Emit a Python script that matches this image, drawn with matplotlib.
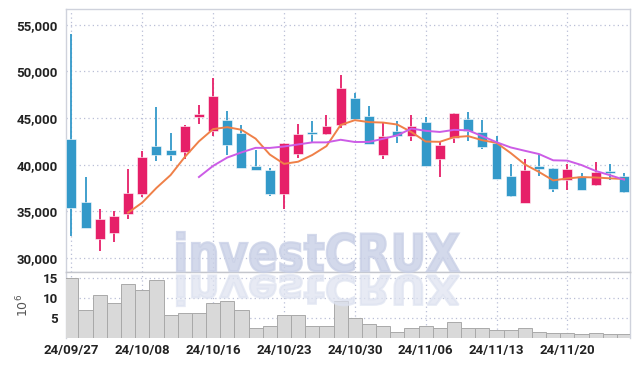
import numpy as np
import pandas as pd
import matplotlib
matplotlib.use("Agg")
import matplotlib.pyplot as plt
from matplotlib.textpath import TextPath
from matplotlib.font_manager import FontProperties
from matplotlib.patches import PathPatch
from matplotlib.transforms import Affine2D

plt.rcParams['font.family'] = ['Roboto', 'DejaVu Sans']

dates = ["24/09/27", "24/09/30", "24/10/02", "24/10/04", "24/10/07", "24/10/08",
         "24/10/10", "24/10/11", "24/10/14", "24/10/15", "24/10/16", "24/10/17",
         "24/10/18", "24/10/21", "24/10/22", "24/10/23", "24/10/24", "24/10/25",
         "24/10/28", "24/10/29", "24/10/30", "24/10/31", "24/11/01", "24/11/04",
         "24/11/05", "24/11/06", "24/11/07", "24/11/08", "24/11/11", "24/11/12",
         "24/11/13", "24/11/14", "24/11/15", "24/11/18", "24/11/19", "24/11/20",
         "24/11/21", "24/11/22", "24/11/25", "24/11/26"]

opens = [42750, 36000, 32100, 32650, 34700, 36900, 42000, 41600, 41400, 45100,
         43650, 44800, 43400, 39850, 39450, 36900, 41200, 43450, 43350, 44300,
         47150, 45200, 41100, 43650, 43100, 44600, 40650, 42850, 44850, 43500,
         42350, 38800, 35950, 39900, 39650, 38350, 38800, 37850, 39350, 38800]
highs = [54000, 38700, 35250, 35000, 39600, 41500, 46200, 43400, 44300, 46350,
         49300, 45800, 44250, 41600, 39700, 42350, 44350, 44650, 45300, 49600,
         47650, 46250, 44450, 44650, 45300, 45150, 42600, 45550, 45600, 44750,
         43100, 40050, 40650, 41200, 39650, 40050, 39100, 40350, 40050, 39100]
lows = [32350, 33250, 30750, 31700, 34150, 36600, 40400, 40400, 40650, 44350,
        43050, 41050, 39700, 39400, 36700, 35250, 40700, 42450, 43150, 43950,
        44950, 42250, 40600, 42350, 42600, 39900, 38650, 42350, 42500, 41650,
        38500, 36600, 35950, 38800, 37100, 37300, 37350, 37750, 38350, 37000]
closes = [35400, 33250, 34200, 34500, 37000, 40800, 41100, 41100, 44150, 45400,
          47350, 42150, 39700, 39400, 36900, 42350, 43300, 43300, 44150, 48200,
          44950, 42250, 43050, 43100, 44150, 39900, 42100, 45550, 43650, 41950,
          38500, 36650, 39450, 39600, 37450, 39550, 37350, 39250, 39150, 37100]
volumes = [15.0, 6.9, 10.8, 8.6, 13.5, 12.0, 14.3, 5.6, 6.2, 6.2,
           8.7, 9.2, 6.9, 2.4, 2.9, 5.6, 5.6, 3.1, 3.1, 9.3,
           4.9, 3.4, 2.9, 1.5, 2.6, 2.9, 2.4, 4.1, 2.4, 2.4,
           1.9, 1.9, 2.6, 1.5, 1.2, 1.2, 0.9, 1.2, 0.9, 0.9]

up_col = "#e61f68"
down_col = "#3399c9"
grid_col = "#b9bfd6"
spine_col = "#cfd2dc"
text_col = "#222222"

df = pd.DataFrame({"open": opens, "high": highs, "low": lows,
                   "close": closes, "vol": volumes})
ma5 = df["close"].rolling(5).mean()
ma10 = df["close"].rolling(10).mean()
x = np.arange(len(df))

fig = plt.figure(figsize=(6.39, 3.66), dpi=100)
ax = fig.add_axes([0.1033, 0.2568, 0.8826, 0.7186])
axv = fig.add_axes([0.1033, 0.0765, 0.8826, 0.1803], sharex=ax)

# candles
up = df["close"] >= df["open"]
colors = np.where(up, up_col, down_col)
bottom = np.minimum(df["open"], df["close"])
height = np.maximum(np.abs(df["close"] - df["open"]), 180)
ax.vlines(x, df["low"], df["high"], colors=colors, linewidth=1.3, zorder=3)
ax.bar(x, height, bottom=bottom, width=0.7, color=colors,
       edgecolor="white", linewidth=0.4, zorder=4)
ax.plot(x, ma5, color="#ef8048", lw=1.4, zorder=5)
ax.plot(x, ma10, color="#cc5ce6", lw=1.4, zorder=5)

ax.set_xlim(-0.38, 39.42)
ax.set_ylim(28520, 56680)
ax.set_yticks(np.arange(30000, 55001, 5000))
ax.yaxis.set_major_formatter(matplotlib.ticker.FuncFormatter(lambda v, p: f"{v:,.0f}"))

# volume
axv.bar(x, df["vol"], width=1.0, color="#d9d9d9", edgecolor="#a9a9a9",
        linewidth=0.7, zorder=3)
axv.set_ylim(0, 16.4)
axv.set_yticks([5, 10, 15])
axv.set_ylabel(r"$10^6$", color="#555555", fontsize=9, labelpad=8)

ticks = x[::5]
axv.set_xticks(ticks)
axv.set_xticklabels([dates[i] for i in ticks])

for a in (ax, axv):
    a.grid(True, color=grid_col, linestyle=(0, (1, 2.5)), linewidth=0.9)
    a.set_axisbelow(True)
    a.tick_params(length=0, labelsize=9.5, colors=text_col, pad=6)
    for lab in a.get_xticklabels() + a.get_yticklabels():
        lab.set_fontweight("bold")
    for s in a.spines.values():
        s.set_color(spine_col)
        s.set_linewidth(1.0)
plt.setp(ax.get_xticklabels(), visible=False)
axv.spines["bottom"].set_visible(False)
axv.spines["top"].set_color("#c4c6cc")
axv.tick_params(axis="x", pad=4)

# watermark with reflection
tp = TextPath((0, 0), "investCRUX", size=1,
              prop=FontProperties(family=["DejaVu Sans"], weight="bold"))
ext = tp.get_extents()
W, H = 639.0, 366.0
main_tr = (Affine2D().translate(-ext.x0, -ext.y0)
           .scale(282 / ext.width, 40 / ext.height)
           .translate(177, H - 272).scale(1 / W, 1 / H))
refl_tr = (Affine2D().translate(-ext.x0, -ext.y0)
           .scale(282 / ext.width, -31 / ext.height)
           .translate(177, H - 275).scale(1 / W, 1 / H))
fig.add_artist(PathPatch(tp, transform=main_tr + fig.transFigure,
                         facecolor="#c9d0e6", edgecolor="#c9d0e6", linewidth=1.6,
                         alpha=0.8, zorder=6))
fig.add_artist(PathPatch(tp, transform=refl_tr + fig.transFigure,
                         facecolor="#dde2f0", edgecolor="#dde2f0", linewidth=1.6,
                         alpha=0.7, zorder=6))

fig.savefig("out.png", dpi=100)
